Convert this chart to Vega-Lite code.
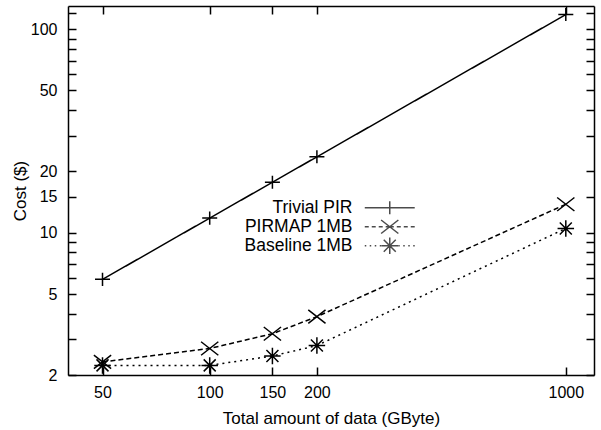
{
  "$schema": "https://vega.github.io/schema/vega-lite/v6.json",
  "width": 526,
  "height": 369,
  "autosize": {"type": "none"},
  "padding": {"left": 68, "top": 6, "right": 7, "bottom": 55},
  "background": "white",
  "config": {
    "view": {"stroke": null},
    "font": "Liberation Sans",
    "axis": {
      "zindex": 1,
      "domainColor": "black",
      "domainWidth": 1.5,
      "tickColor": "black",
      "tickWidth": 1.5,
      "labelColor": "black",
      "titleColor": "black",
      "labelFont": "Liberation Sans",
      "titleFont": "Liberation Sans",
      "labelFontSize": 16,
      "titleFontSize": 17,
      "titleFontWeight": "normal",
      "grid": false,
      "labelOverlap": false,
      "labelFlush": false
    }
  },
  "data": {
    "values": [
      {"series": "Trivial PIR", "gb": 50, "cost": 5.9},
      {"series": "Trivial PIR", "gb": 100, "cost": 11.8},
      {"series": "Trivial PIR", "gb": 150, "cost": 17.7},
      {"series": "Trivial PIR", "gb": 200, "cost": 23.6},
      {"series": "Trivial PIR", "gb": 1000, "cost": 118},
      {"series": "PIRMAP 1MB", "gb": 50, "cost": 2.32},
      {"series": "PIRMAP 1MB", "gb": 100, "cost": 2.7},
      {"series": "PIRMAP 1MB", "gb": 150, "cost": 3.19},
      {"series": "PIRMAP 1MB", "gb": 200, "cost": 3.87},
      {"series": "PIRMAP 1MB", "gb": 1000, "cost": 13.8},
      {"series": "Baseline 1MB", "gb": 50, "cost": 2.23},
      {"series": "Baseline 1MB", "gb": 100, "cost": 2.23},
      {"series": "Baseline 1MB", "gb": 150, "cost": 2.48},
      {"series": "Baseline 1MB", "gb": 200, "cost": 2.79},
      {"series": "Baseline 1MB", "gb": 1000, "cost": 10.5}
    ]
  },
  "layer": [
    {
      "mark": {"type": "line", "color": "black", "strokeWidth": 1.5},
      "encoding": {
        "x": {
          "field": "gb", "type": "quantitative",
          "scale": {"type": "log", "domain": [40, 1200]},
          "axis": {
            "orient": "bottom",
            "values": [50, 100, 150, 200, 1000],
            "format": "d",
            "tickSize": -8,
            "labelPadding": 17,
            "title": "Total amount of data (GByte)",
            "titlePadding": 10
          }
        },
        "y": {
          "field": "cost", "type": "quantitative",
          "scale": {"type": "log", "domain": [2, 130]},
          "axis": {
            "orient": "left",
            "values": [2, 3, 4, 5, 6, 7, 8, 9, 10, 15, 20, 30, 40, 50, 60, 70, 80, 90, 100, 120],
            "labelExpr": "indexof([2, 5, 10, 15, 20, 50, 100], datum.value) >= 0 ? format(datum.value, 'd') : ''",
            "tickSize": -8,
            "labelPadding": 19,
            "title": "Cost ($)",
            "titlePadding": 1
          }
        },
        "strokeDash": {
          "field": "series", "type": "nominal",
          "scale": {"domain": ["Trivial PIR", "PIRMAP 1MB", "Baseline 1MB"], "range": [[1, 0], [5, 3], [2, 4]]},
          "legend": null
        }
      }
    },
    {
      "mark": {"type": "point", "filled": false, "color": "black", "strokeWidth": 1.5, "size": 225, "opacity": 1},
      "encoding": {
        "x": {
          "field": "gb", "type": "quantitative",
          "scale": {"type": "log", "domain": [40, 1200]},
          "axis": {"orient": "top", "values": [50, 100, 150, 200, 1000], "labels": false, "tickSize": -8, "title": null}
        },
        "y": {
          "field": "cost", "type": "quantitative",
          "scale": {"type": "log", "domain": [2, 130]},
          "axis": {
            "orient": "right",
            "values": [2, 3, 4, 5, 6, 7, 8, 9, 10, 15, 20, 30, 40, 50, 60, 70, 80, 90, 100, 120],
            "labels": false, "tickSize": -8, "title": null
          }
        },
        "shape": {
          "field": "series", "type": "nominal",
          "scale": {
            "domain": ["Trivial PIR", "PIRMAP 1MB", "Baseline 1MB"],
            "range": [
              "M-1,0H1M0,-0.87V0.87",
              "M-1.15,-0.9L1.15,0.9M-1.15,0.9L1.15,-0.9",
              "M-1.1,0H1.1M0,-1.1V1.1M-0.8,-0.8L0.8,0.8M-0.8,0.8L0.8,-0.8"
            ]
          },
          "legend": null
        }
      }
    },
    {
      "transform": [{"filter": "false"}],
      "mark": {"type": "point", "filled": false, "color": "black", "strokeWidth": 1.5, "size": 225},
      "encoding": {
        "x": {"field": "gb", "type": "quantitative", "scale": {"type": "log", "domain": [40, 1200]}, "axis": null},
        "y": {"field": "cost", "type": "quantitative", "scale": {"type": "log", "domain": [2, 130]}, "axis": null},
        "shape": {
          "field": "series", "type": "nominal",
          "scale": {
            "domain": ["Trivial PIR", "PIRMAP 1MB", "Baseline 1MB"],
            "range": [
              "M-3.33,0H3.33M0,-0.87V0.87",
              "M-3.33,0H-2.8M-2.4,0H-1.87M-1.47,0H-0.94M-0.54,0H0.54M0.94,0H1.47M1.87,0H2.4M2.8,0H3.33M-1.15,-0.9L1.15,0.9M-1.15,0.9L1.15,-0.9",
              "M-3.33,0H-3.13M-2.67,0H-2.47M-2,0H-1.8M-1.33,0H-1.13M1.13,0H1.33M1.8,0H2M2.47,0H2.67M3.13,0H3.33M-1.1,0H1.1M0,-1.1V1.1M-0.8,-0.8L0.8,0.8M-0.8,0.8L0.8,-0.8"
            ]
          },
          "legend": {
            "orient": "none",
            "legendX": 313,
            "legendY": 193,
            "title": null,
            "labelAlign": "right",
            "labelOffset": -46,
            "symbolSize": 225,
            "symbolStrokeWidth": 1.5,
            "symbolStrokeColor": "black",
            "symbolFillColor": "transparent",
            "labelFont": "Liberation Sans",
            "labelFontSize": 17.5,
            "labelColor": "black",
            "rowPadding": -4
          }
        }
      }
    }
  ],
  "resolve": {
    "scale": {"shape": "independent"},
    "axis": {"x": "independent", "y": "independent"}
  }
}
